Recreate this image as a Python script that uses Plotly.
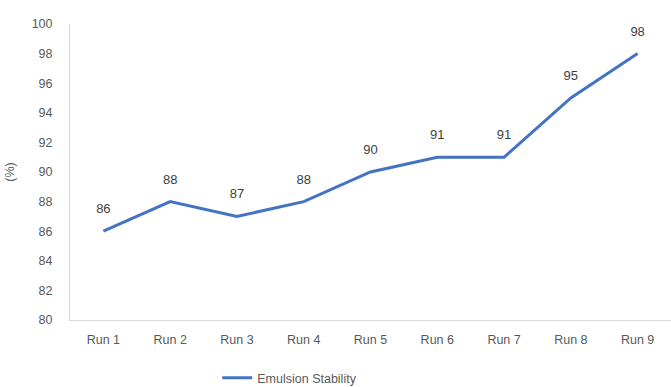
import plotly.graph_objects as go

runs = ["Run 1", "Run 2", "Run 3", "Run 4", "Run 5", "Run 6", "Run 7", "Run 8", "Run 9"]
stability = [86, 88, 87, 88, 90, 91, 91, 95, 98]
y_ticks = list(range(80, 101, 2))

fig = go.Figure()
fig.add_trace(go.Scatter(
    x=runs, y=stability, mode="lines+markers+text", name="Emulsion Stability",
    line=dict(color="#4472C4", width=3),
    marker=dict(size=22, color="rgba(0,0,0,0)"),
    text=[str(v) for v in stability], textposition="top center",
    textfont=dict(color="#404040", size=13),
    cliponaxis=False,
))

fig.update_layout(
    width=671, height=387,
    margin=dict(l=70, r=0, t=24, b=67, autoexpand=False),
    paper_bgcolor="white", plot_bgcolor="white",
    font=dict(family="Liberation Sans, Arial", color="#595959", size=12),
    showlegend=True,
    legend=dict(orientation="h", x=0.245, xanchor="left", y=-0.196, yanchor="middle",
                font=dict(size=12.5, color="#595959"), itemwidth=30),
    xaxis=dict(showline=True, linecolor="#d9d9d9", linewidth=1, showgrid=False,
               ticks="", range=[-0.5, 8.5], zeroline=False, ticklabelstandoff=8,
               tickfont=dict(size=12.5)),
    yaxis=dict(showline=True, linecolor="#d9d9d9", linewidth=1, showgrid=False,
               range=[80, 100], tickvals=y_ticks, ticks="", zeroline=False,
               ticklabelstandoff=14, tickfont=dict(size=12.5),
               title=dict(text="(%)", standoff=14, font=dict(size=12.5, color="#595959"))),
)

fig.write_html("out.html")
